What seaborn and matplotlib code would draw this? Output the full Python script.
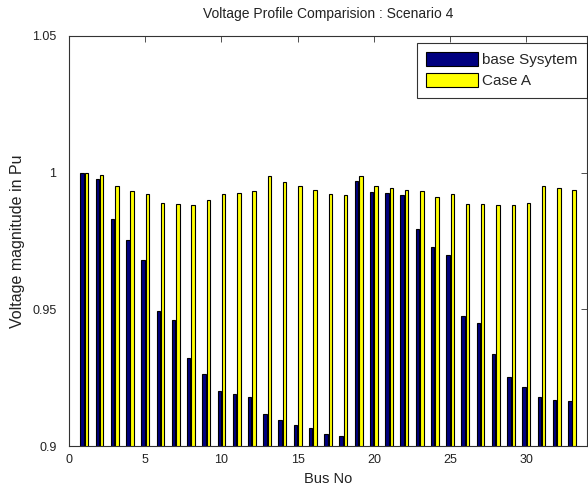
import matplotlib
matplotlib.use('Agg')
import matplotlib.pyplot as plt
import seaborn as sns
import pandas as pd
from matplotlib.ticker import FuncFormatter

# Bus voltage magnitudes (pu)
bus_no = list(range(1, 34))
base_system = [1.0000, 0.9976, 0.9830, 0.9755, 0.9681, 0.9495, 0.9460, 0.9323, 0.9262, 0.9201,
               0.9191, 0.9178, 0.9117, 0.9095, 0.9077, 0.9065, 0.9043, 0.9038, 0.9971, 0.9931,
               0.9927, 0.9917, 0.9794, 0.9728, 0.9698, 0.9477, 0.9451, 0.9337, 0.9252, 0.9217,
               0.9178, 0.9170, 0.9165]
case_a = [1.0000, 0.9991, 0.9952, 0.9934, 0.9922, 0.9890, 0.9887, 0.9882, 0.9899, 0.9923,
          0.9926, 0.9934, 0.9987, 0.9965, 0.9952, 0.9938, 0.9921, 0.9917, 0.9987, 0.9952,
          0.9943, 0.9938, 0.9934, 0.9912, 0.9921, 0.9887, 0.9887, 0.9882, 0.9882, 0.9890,
          0.9951, 0.9943, 0.9938]
series_names = ['base Sysytem', 'Case A']
series_colors = ['#000080', '#FFFF00']


def main():
    df = pd.DataFrame({
        'Bus': bus_no * 2,
        'Voltage': base_system + case_a,
        'Series': [series_names[0]] * len(bus_no) + [series_names[1]] * len(bus_no),
    })

    sns.set_style('white')
    plt.rcParams['font.family'] = ['Liberation Sans', 'DejaVu Sans']

    fig = plt.figure(figsize=(5.88, 4.86), dpi=100)
    ax = fig.add_axes([0.1173, 0.0823, 0.8815, 0.8437])

    sns.barplot(data=df, x='Bus', y='Voltage', hue='Series', native_scale=True,
                palette=series_colors, saturation=1, width=0.57, gap=0.2,
                edgecolor='black', linewidth=0.8, ax=ax)

    ax.set_xlim(0, 34)
    ax.set_ylim(0.9, 1.05)
    ax.set_xticks(range(0, 35, 5))
    ax.set_yticks([0.9, 0.95, 1.0, 1.05])
    ax.yaxis.set_major_formatter(FuncFormatter(lambda v, p: f'{v:g}'))
    ax.tick_params(direction='in', top=True, right=True, length=4, width=0.6,
                   labelsize=9, colors='#333333', labelcolor='#222222')
    ax.tick_params(axis='y', pad=9)
    ax.tick_params(axis='x', pad=6)
    for s in ax.spines.values():
        s.set_color('#333333')
        s.set_linewidth(0.8)

    ax.set_title('Voltage Profile Comparision : Scenario 4', fontsize=10, color='#222222', pad=13)
    ax.set_xlabel('Bus No', fontsize=10.5, color='#222222', labelpad=4)
    ax.set_ylabel('Voltage magnitude in Pu', fontsize=11.5, color='#222222', labelpad=5)

    handles, labels = ax.get_legend_handles_labels()
    leg = ax.legend(handles, labels, loc='upper right', bbox_to_anchor=(0.999, 0.983),
                    fontsize=11, frameon=True, fancybox=False, edgecolor='black',
                    handlelength=3.4, handleheight=1.0, handletextpad=0.3,
                    borderpad=0.6, labelspacing=0.4, borderaxespad=0.0)
    leg.get_frame().set_linewidth(0.8)

    fig.savefig('out.png', dpi=100)


if __name__ == '__main__':
    main()
